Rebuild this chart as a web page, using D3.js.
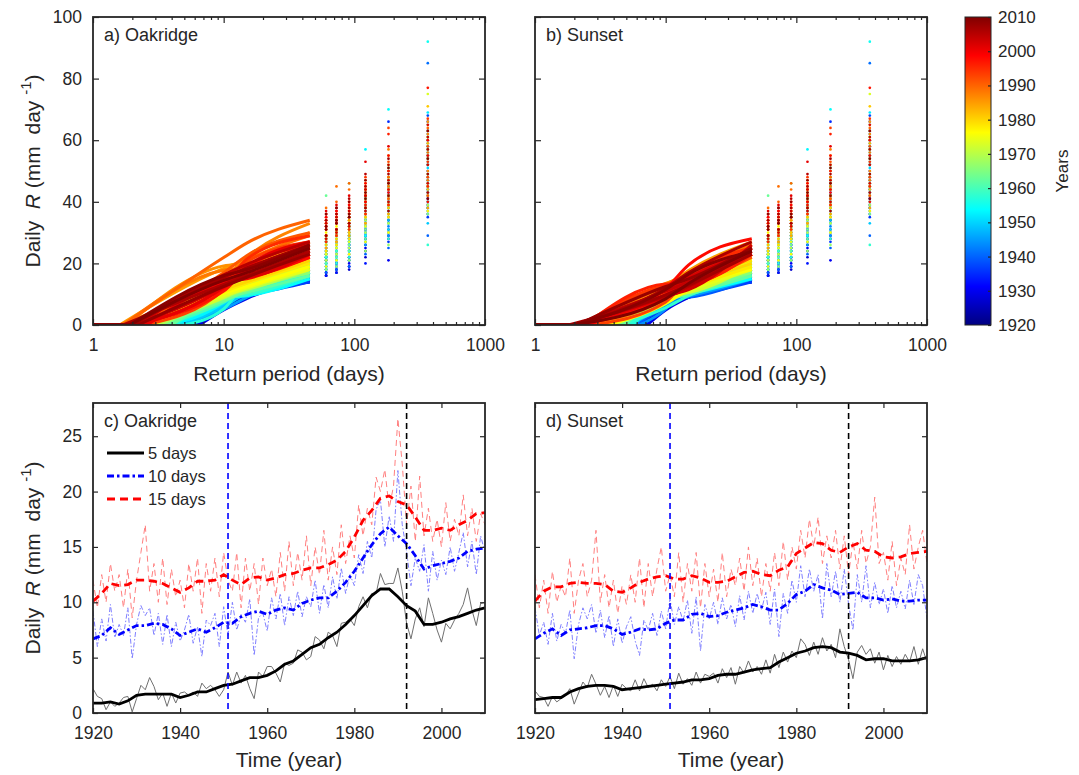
<!DOCTYPE html>
<html>
<head>
<meta charset="utf-8">
<script src="https://cdn.jsdelivr.net/npm/d3@7"></script>
<style>
  body { margin: 0; background: #fff; }
  text { font-family: "Liberation Sans", Arial, Helvetica, sans-serif; fill: #262626; }
</style>
</head>
<body>
<svg id="chart" width="1079" height="775"></svg>
<script>
// ---------- data ----------
const years = d3.range(1920, 2011);
const smoothYears = d3.range(1920, 2011, 2);

// annual daily R (mm/day) at the 5, 10 and 15 day return periods - Oakridge
const oak5 = [2.2,1.5,1.3,0.3,1.0,0.6,0.9,1.4,1.5,0.1,
  1.3,2.5,2.1,3.2,2.4,1.2,1.8,0.6,1.8,0.9,
  1.8,1.9,1.6,1.9,1.5,2.7,2.2,2.5,2.1,1.5,
  2.1,3.7,2.5,3.7,2.7,3.4,2.2,1.3,3.7,3.3,
  4.2,4.2,3.6,2.8,4.5,4.3,4.5,5.7,5.5,4.8,
  5.1,6.9,6.6,5.8,7.3,7.0,6.0,8.1,8.2,8.5,
  7.9,9.6,10.5,9.5,10.8,10.8,12.6,11.6,11.7,11.7,
  13.1,11.0,8.1,6.7,8.5,9.5,7.8,10.4,9.0,7.5,
  6.4,8.1,7.6,8.4,9.0,9.8,11.3,9.3,7.9,9.9,
  10.0];
const oak10 = [9.2,6.0,8.5,6.5,9.8,6.8,8.0,7.0,9.5,4.9,
  8.0,9.7,8.8,9.5,7.0,9.0,6.2,8.9,6.0,8.2,
  6.5,7.5,8.9,6.3,7.8,5.1,8.4,7.9,9.0,6.0,
  9.6,7.0,10.0,7.5,8.9,8.2,10.3,5.2,8.6,9.0,
  7.4,10.4,8.5,10.8,7.9,10.5,8.8,11.0,8.7,10.5,
  9.6,12.0,9.0,11.6,9.5,12.3,10.3,13.1,10.8,12.5,
  11.5,14.3,12.6,15.5,14.0,18.4,19.2,15.0,17.8,15.5,
  21.9,17.0,14.6,11.5,14.0,12.8,15.2,11.0,14.6,12.0,
  13.8,12.5,15.0,12.8,14.5,16.3,13.2,15.5,12.5,16.0,
  14.5];
const oak15 = [12.0,9.5,12.5,10.0,13.5,11.0,12.5,9.5,13.0,8.6,
  12.0,14.5,17.0,11.0,13.5,10.0,14.0,9.8,13.0,10.5,
  12.0,9.5,13.5,11.0,14.0,9.0,13.5,11.0,14.0,10.5,
  14.5,12.0,11.0,14.5,9.5,14.0,11.0,13.5,9.8,14.0,
  11.5,13.0,10.5,14.5,11.0,15.5,11.5,14.5,12.0,16.0,
  11.5,15.0,12.5,16.5,12.0,15.0,12.5,17.0,13.5,16.0,
  14.0,18.8,16.0,18.5,17.0,21.3,20.0,22.0,18.5,20.5,
  26.6,22.5,17.0,20.5,15.5,21.4,16.0,18.5,15.5,17.5,
  15.0,19.0,15.5,17.5,16.0,19.7,16.0,18.5,15.5,18.0,
  17.0];
// smoothed series, every second year
const oak5s = [0.9,0.9,1.0,0.8,1.1, 1.6,1.7,1.7,1.7,1.7, 1.4,1.6,1.9,1.9,2.2, 2.5,2.6,2.9,3.2,3.2,
  3.4,3.8,4.4,4.7,5.3, 5.9,6.2,6.8,7.3,8.0, 8.8,9.7,10.6,11.2,11.2, 10.5,9.7,9.2,8.0,8.0,
  8.2,8.5,8.7,9.0,9.3, 9.5];
const oak10s = [6.7,7.0,7.7,7.1,7.5, 7.9,7.9,8.1,8.0,7.6, 7.0,7.3,7.6,7.3,7.7, 8.2,8.1,8.7,9.0,9.2,
  8.9,9.3,9.5,9.3,9.9, 10.2,10.4,10.4,11.0,11.8, 12.8,14.0,15.2,16.2,16.8, 16.0,15.3,14.2,13.0,13.3,
  13.5,13.7,14.0,14.6,14.8, 14.9];
const oak15s = [10.1,10.8,11.7,11.5,11.6, 12.0,12.0,11.9,11.7,11.3, 10.9,11.3,11.9,11.9,12.0, 12.5,12.0,11.6,12.2,12.3,
  12.0,12.2,12.5,12.6,12.9, 13.1,13.1,13.4,13.8,14.6, 15.9,17.4,18.3,19.4,19.6, 19.1,18.8,17.7,16.5,16.5,
  16.7,16.5,17.0,17.4,18.0, 18.1];

// Sunset
const sun5 = [2.0,1.5,1.4,0.6,1.5,1.0,1.3,1.6,2.2,0.8,
  1.8,2.8,2.3,3.5,2.6,1.6,2.4,1.4,2.5,1.5,
  2.6,2.2,2.0,3.0,2.0,3.1,2.3,2.6,2.0,3.0,
  2.4,3.3,2.2,3.6,2.6,3.1,2.5,3.7,2.7,3.5,
  3.3,3.6,2.7,4.0,3.2,4.1,2.6,4.2,3.6,4.7,
  3.7,4.2,3.5,4.8,3.6,5.3,4.1,5.5,4.6,5.6,
  5.0,6.7,6.2,5.2,6.4,5.3,6.8,5.6,6.2,5.0,
  7.6,6.0,4.8,3.1,5.5,6.1,5.3,5.8,4.5,5.5,
  3.9,5.2,4.2,5.1,4.4,5.3,4.6,6.0,4.4,5.8,
  4.6];
const sun10 = [9.5,7.0,8.2,6.2,9.0,6.5,8.0,7.2,9.3,4.9,
  8.0,9.5,8.5,9.8,7.2,9.3,6.8,8.8,6.0,8.5,
  6.3,7.8,8.7,6.5,5.2,8.4,7.5,9.0,7.0,9.2,
  7.6,10.3,8.0,9.6,8.3,10.2,7.2,10.5,5.6,9.8,
  8.5,10.0,8.0,10.4,8.5,9.8,7.8,10.6,8.4,11.0,
  9.0,10.8,9.3,10.9,8.0,11.2,6.9,10.8,9.0,12.0,
  10.0,13.3,10.5,13.0,11.0,12.5,8.5,13.5,10.5,12.8,
  10.0,13.0,9.8,7.5,12.5,10.0,13.3,9.5,11.8,9.8,
  11.2,9.0,11.5,9.5,11.0,9.4,12.0,9.8,12.5,11.5,
  8.5];
const sun15 = [12.5,9.5,12.0,9.0,12.8,10.0,11.5,10.5,14.0,9.0,
  12.0,13.5,10.5,12.0,16.5,10.0,12.5,9.5,12.0,9.0,
  11.5,9.8,12.5,10.0,14.0,9.5,13.5,10.5,13.0,15.0,
  11.0,12.5,10.5,14.5,10.0,13.5,11.0,14.5,9.5,13.5,
  10.5,13.0,10.0,14.5,10.5,13.0,11.5,14.0,11.0,15.0,
  11.5,14.0,10.5,13.5,11.0,14.5,11.5,15.5,12.0,15.0,
  13.0,16.5,14.0,17.5,15.0,17.7,13.5,16.0,14.0,16.5,
  13.0,16.0,12.5,15.5,13.0,16.5,13.5,15.0,19.5,13.5,
  14.5,12.0,15.5,11.5,14.0,12.5,17.0,13.0,15.0,16.5,
  13.5];
const sun5s = [1.2,1.3,1.4,1.4,1.9, 2.2,2.4,2.5,2.5,2.4, 2.1,2.2,2.3,2.4,2.5, 2.6,2.7,2.8,3.0,3.0,
  3.1,3.4,3.5,3.5,3.7, 3.9,4.0,4.1,4.6,5.0, 5.4,5.6,5.9,6.0,5.9, 5.5,5.4,5.2,4.8,4.9,
  4.9,4.7,4.7,4.7,4.8, 5.0];
const sun10s = [6.7,7.2,7.6,7.0,7.5, 7.6,7.7,7.9,7.9,7.6, 7.1,7.3,7.6,7.5,7.6, 8.1,8.4,8.4,8.9,9.0,
  8.7,8.8,9.1,9.3,9.5, 9.8,9.6,9.3,9.3,9.9, 10.7,11.0,11.6,11.3,11.1, 10.7,10.8,10.9,10.4,10.4,
  10.2,10.3,10.1,10.1,10.2, 10.2];
const sun15s = [10.1,11.0,11.4,11.4,11.7, 11.8,11.7,11.7,11.6,11.0, 10.9,11.3,11.8,12.1,12.3, 12.4,12.1,12.1,12.4,12.2,
  11.8,11.8,11.9,12.3,12.7, 12.8,12.5,12.4,12.9,13.2, 14.4,14.9,15.4,15.3,14.7, 14.5,15.0,15.3,14.7,14.6,
  14.1,14.0,14.1,14.4,14.5, 14.6];

// return-period curves: period where R first exceeds zero, and R at 45.6 days
const oakT0 = [5.5,5.0,5.2,6.2,5.4,5.8,5.5,5.0,5.0,6.5,
  5.2,4.5,4.6,4.0,4.4,5.2,4.8,5.8,4.8,5.4,
  4.8,4.7,4.9,4.6,4.9,4.0,4.3,4.1,4.4,4.9,
  4.3,3.6,4.1,3.6,4.0,3.7,4.3,4.9,3.6,3.8,
  3.4,3.4,3.6,4.0,3.2,3.3,3.2,2.8,2.9,3.1,
  3.0,2.5,2.6,2.8,2.4,2.5,2.8,2.2,2.2,2.1,
  2.2,1.9,1.8,1.9,1.8,1.6,1.8,1.7,1.7,1.6,
  1.7,1.8,2.2,2.5,2.1,1.9,2.2,1.8,2.0,2.3,
  2.6,2.2,2.3,2.1,2.0,1.9,1.7,2.0,2.2,1.9,
  1.9];
const oakR46 = [15,17,14,18,15,16,17,14,18,15,
  16,18,20,16,18,15,17,14,17,15,
  16,15,18,16,18,15,18,16,19,16,
  19,17,17,20,15,19,17,19,16,20,
  17,19,16,20,17,21,17,20,18,22,
  18,21,19,22,18,21,19,23,20,22,
  21,25,23,25,24,30,26,33,27,29,
  34,30,25,27,23,29,22,26,22,25,
  23,27,23,25,24,27,24,26,23,26,
  25];
const sunT0 = [6.5,6.0,6.2,7.0,6.3,6.8,6.4,6.0,5.8,7.2,
  6.0,5.4,5.6,5.0,5.3,6.0,5.6,6.5,5.6,6.2,
  5.6,5.5,5.7,5.4,6.3,4.9,5.2,5.0,5.3,5.6,
  5.1,4.6,5.0,4.5,4.9,4.6,5.1,5.6,4.6,4.7,
  4.3,4.3,4.5,4.8,4.1,4.2,4.1,3.7,3.8,4.0,
  3.8,3.3,3.4,3.6,3.2,3.3,3.6,3.0,3.0,2.9,
  2.9,2.5,2.4,2.5,2.4,2.2,2.4,2.2,2.2,2.1,
  2.1,2.2,2.5,2.8,2.3,2.1,2.4,2.0,2.2,2.4,
  2.6,2.2,2.3,2.1,2.0,1.9,1.8,2.0,2.1,1.9,
  1.9];
const sunR46 = [15,16,14,17,15,16,16,14,17,15,
  15,17,18,16,18,15,17,14,17,15,
  15,15,17,16,17,15,17,16,18,20,
  18,17,16,19,15,18,17,19,16,19,
  17,19,16,19,17,20,17,19,18,21,
  18,20,19,21,18,21,18,22,19,21,
  20,24,22,26,23,27,22,25,23,26,
  23,25,22,24,23,25,23,24,28,23,
  23,25,24,26,24,25,27,23,25,24,
  24];

// highest daily values of each year (ranks 1-6), shared by both gauges
const colPeriods = [365, 182.5, 121.7, 91.25, 73, 60.8];
const rank1 = [45,52,38,60,41,55,47,36,63,44, 50,39,58,43,66,48,35,57,68,42,
  29,85,46,54,37,62,49,40,59,33, 51,44,69,38,56,92,47,61,26,53,
  40,58,45,65,36,52,43,60,48,39, 55,46,63,75,42,57,49,37,61,45,
  54,71,44,59,38,66,50,62,47,56, 64,42,58,48,67,53,45,77,40,60,
  55,65,46,52,61,43,57,49,63,41, 54];
const rank2 = [34,40,28,45,31,38,42,29,47,35, 21,33,44,30,39,66,27,41,36,48,
  25,37,43,32,50,29,40,46,34,38, 42,31,45,36,70,33,47,28,39,44,
  37,48,30,42,35,51,38,26,45,40, 33,46,39,52,36,44,30,48,41,35,
  47,38,55,42,36,50,44,39,57,45, 48,41,53,64,46,39,62,50,43,55,
  44,58,40,47,52,37,49,54,42,46, 51];
const rank3 = [28,33,24,36,26,31,35,22,38,29, 25,30,34,20,32,39,27,36,29,41,
  23,31,37,28,34,26,40,33,29,35, 36,30,38,57,33,29,41,27,35,39,
  32,40,28,37,31,43,35,24,39,34, 30,38,35,44,32,40,27,42,36,33,
  41,35,46,38,33,44,40,36,47,42, 43,38,45,40,48,36,42,44,39,46,
  40,53,37,44,42,49,45,38,47,43, 41];
const rank4 = [22,27,19,29,21,25,28,18,30,24, 20,25,28,19,26,32,22,29,24,33,
  19,26,30,23,28,21,32,27,24,29, 29,25,31,35,27,24,33,22,28,31,
  27,32,24,46,26,34,29,21,32,28, 25,31,29,36,27,33,23,35,30,28,
  34,30,38,32,29,37,34,31,39,44, 46,33,37,35,40,31,36,38,33,39,
  35,42,32,37,36,41,38,33,40,36, 35];
const rank5 = [20,24,17,26,19,23,25,18,27,21, 18,23,25,17,24,29,20,26,22,30,
  18,24,27,21,25,19,29,24,22,26, 26,22,28,31,24,21,30,20,25,28,
  24,29,22,33,23,31,26,19,29,25, 23,28,26,33,25,30,21,32,27,26,
  31,28,35,30,27,34,31,29,36,45, 40,31,35,33,37,29,34,36,31,37,
  33,39,30,35,34,38,36,31,38,34, 33];
const rank6 = [18,22,16,24,17,21,23,16,25,19, 17,21,23,16,22,27,18,24,20,28,
  17,22,25,19,23,18,27,22,20,24, 24,20,26,29,22,19,28,18,23,26,
  22,27,20,42,21,29,24,18,27,23, 21,26,24,31,23,28,19,30,25,24,
  29,26,33,28,25,32,29,27,34,38, 36,29,33,31,35,27,32,34,29,35,
  31,37,28,33,32,36,34,29,36,32, 31];
const rankCols = [rank1, rank2, rank3, rank4, rank5, rank6];

const breakYears = [1951, 1992];
const retTicks = [1, 10, 100, 1000];
const retYTicks = [0, 20, 40, 60, 80, 100];
const timeTicks = [1920, 1940, 1960, 1980, 2000];
const timeYTicks = [0, 5, 10, 15, 20, 25];
const cbarTicks = d3.range(1920, 2011, 10);
const legendLabels = ["5 days", "10 days", "15 days"];

// ---------- layout ----------
const AX = "#262626";
const W = 392;
const svg = d3.select("#chart");

// MATLAB jet colormap
const jet = d3.scaleLinear()
  .domain([0, 0.125, 0.375, 0.625, 0.875, 1].map(p => 1920 + p * 90))
  .range(["#000080", "#0000ff", "#00ffff", "#ffff00", "#ff0000", "#800000"]);

function styleAxis(sel) {
  sel.select(".domain").remove();
  sel.attr("color", AX).attr("font-family", null).attr("font-size", null);
  sel.selectAll("line").attr("stroke-width", 1.2);
  sel.selectAll("text").style("font-size", "17.5px");
}

function frame(g, h) {
  g.append("rect").attr("width", W).attr("height", h)
    .attr("fill", "none").attr("stroke", AX).attr("stroke-width", 1.8);
}

function panelLabel(g, txt) {
  g.append("text").attr("x", 11).attr("y", 24).style("font-size", "18px").text(txt);
}

function yLabel(x, y) {
  const t = svg.append("text")
    .attr("transform", `translate(${x},${y}) rotate(-90)`)
    .attr("text-anchor", "middle").style("font-size", "21px").style("white-space", "pre");
  t.append("tspan").text("Daily  ");
  t.append("tspan").style("font-style", "italic").text("R");
  t.append("tspan").text(" (mm  day ");
  t.append("tspan").attr("dy", -9).style("font-size", "15px").text("-1");
  t.append("tspan").attr("dy", 9).text(")");
}

// ---------- return period panels ----------
function returnPanel(x0, y0, label, t0, r46, v10, v15, withY) {
  const h = 308;
  const g = svg.append("g").attr("transform", `translate(${x0},${y0})`);
  const x = d3.scaleLog().domain([1, 1000]).range([0, W]);
  const y = d3.scaleLinear().domain([0, 100]).range([h, 0]);

  const clipId = "clip" + label[0];
  g.append("clipPath").attr("id", clipId).append("rect").attr("width", W).attr("height", h);
  const plot = g.append("g").attr("clip-path", `url(#${clipId})`);

  const flat = d3.line().x(d => x(d[0])).y(d => y(d[1]));
  const curve = d3.line().x(d => x(d[0])).y(d => y(d[1])).curve(d3.curveMonotoneX);

  years.forEach((yr, i) => {
    const c = jet(yr);
    // dry part of the year: zero up to t0
    plot.append("path").datum([[1, 0], [t0[i], 0]])
      .attr("d", flat).attr("fill", "none").attr("stroke", c).attr("stroke-width", 3);
    plot.append("path")
      .datum([[t0[i], 0], [10, v10[i]], [15, v15[i]], [45.6, r46[i]]])
      .attr("d", curve).attr("fill", "none").attr("stroke", c)
      .attr("stroke-width", 3).attr("stroke-linejoin", "round");
    plot.append("g").selectAll("circle")
      .data(colPeriods.map((T, k) => [T, rankCols[k][i]]))
      .join("circle")
      .attr("cx", d => x(d[0])).attr("cy", d => y(d[1])).attr("r", 1.35).attr("fill", c);
  });

  const minor = x.ticks().filter(v => !retTicks.includes(v));
  g.append("g").attr("transform", `translate(0,${h})`)
    .call(d3.axisBottom(x).tickValues(retTicks).tickFormat(d3.format("d")).tickSize(-6).tickPadding(14)).call(styleAxis);
  g.append("g").attr("transform", `translate(0,${h})`)
    .call(d3.axisBottom(x).tickValues(minor).tickFormat("").tickSize(-3)).call(styleAxis);
  g.append("g").call(d3.axisTop(x).tickValues(retTicks).tickFormat("").tickSize(-6)).call(styleAxis);
  g.append("g").call(d3.axisTop(x).tickValues(minor).tickFormat("").tickSize(-3)).call(styleAxis);
  g.append("g").call(d3.axisLeft(y).tickValues(retYTicks).tickFormat(withY ? d3.format("d") : "").tickSize(-6).tickPadding(11)).call(styleAxis);
  g.append("g").attr("transform", `translate(${W},0)`)
    .call(d3.axisRight(y).tickValues(retYTicks).tickFormat("").tickSize(-6)).call(styleAxis);
  frame(g, h);
  panelLabel(g, label);

  svg.append("text").attr("x", x0 + W / 2).attr("y", y0 + h + 56)
    .attr("text-anchor", "middle").style("font-size", "21px").text("Return period (days)");
}

// ---------- time series panels ----------
const seriesStyle = [
  { thin: "#707070", thick: "#000000", dashThin: null, dashThick: null },
  { thin: "#8080ff", thick: "#0000ff", dashThin: "5,2,1.5,2", dashThick: "7,3,2.5,3" },
  { thin: "#ff8080", thick: "#ff0000", dashThin: "6,4", dashThick: "8,5" }
];

function timePanel(x0, y0, label, annual, smooth, withY, withLegend) {
  const h = 310;
  const g = svg.append("g").attr("transform", `translate(${x0},${y0})`);
  const x = d3.scaleLinear().domain([1920, 2010]).range([0, W]);
  const y = d3.scaleLinear().domain([0, 28]).range([h, 0]);

  const clipId = "clip" + label[0];
  g.append("clipPath").attr("id", clipId).append("rect").attr("width", W).attr("height", h);
  const plot = g.append("g").attr("clip-path", `url(#${clipId})`);

  const line = d3.line().x(d => x(d[0])).y(d => y(d[1]));

  annual.forEach((s, k) => {
    plot.append("path").datum(years.map((yr, i) => [yr, s[i]]))
      .attr("d", line).attr("fill", "none")
      .attr("stroke", seriesStyle[k].thin).attr("stroke-width", 1)
      .attr("stroke-dasharray", seriesStyle[k].dashThin);
  });
  smooth.forEach((s, k) => {
    plot.append("path").datum(smoothYears.map((yr, i) => [yr, s[i]]))
      .attr("d", line).attr("fill", "none")
      .attr("stroke", seriesStyle[k].thick).attr("stroke-width", 2.8)
      .attr("stroke-dasharray", seriesStyle[k].dashThick);
  });

  plot.selectAll("line.brk").data(breakYears).join("line").attr("class", "brk")
    .attr("x1", d => x(d)).attr("x2", d => x(d)).attr("y1", 0).attr("y2", h)
    .attr("stroke", (d, i) => i === 0 ? "#0000ff" : "#000000")
    .attr("stroke-width", 1.6).attr("stroke-dasharray", "6,4");

  g.append("g").attr("transform", `translate(0,${h})`)
    .call(d3.axisBottom(x).tickValues(timeTicks).tickFormat(d3.format("d")).tickSize(-5).tickPadding(14)).call(styleAxis);
  g.append("g").call(d3.axisTop(x).tickValues(timeTicks).tickFormat("").tickSize(-5)).call(styleAxis);
  g.append("g").call(d3.axisLeft(y).tickValues(timeYTicks).tickFormat(withY ? d3.format("d") : "").tickSize(-5).tickPadding(11)).call(styleAxis);
  g.append("g").attr("transform", `translate(${W},0)`)
    .call(d3.axisRight(y).tickValues(timeYTicks).tickFormat("").tickSize(-5)).call(styleAxis);
  frame(g, h);
  panelLabel(g, label);

  if (withLegend) {
    const lg = g.append("g").attr("transform", "translate(14,50)");
    legendLabels.forEach((t, k) => {
      const row = lg.append("g").attr("transform", `translate(0,${k * 23})`);
      row.append("line").attr("x1", 0).attr("x2", 37).attr("y1", 0).attr("y2", 0)
        .attr("stroke", seriesStyle[k].thick).attr("stroke-width", 2.8)
        .attr("stroke-dasharray", seriesStyle[k].dashThick);
      row.append("text").attr("x", 41).attr("y", 6).style("font-size", "16.5px").text(t);
    });
  }

  svg.append("text").attr("x", x0 + W / 2).attr("y", y0 + h + 54)
    .attr("text-anchor", "middle").style("font-size", "21px").text("Time (year)");
}

returnPanel(93, 17, "a) Oakridge", oakT0, oakR46, oak10, oak15, true);
returnPanel(535, 17, "b) Sunset", sunT0, sunR46, sun10, sun15, false);
timePanel(93, 403, "c) Oakridge", [oak5, oak10, oak15], [oak5s, oak10s, oak15s], true, true);
timePanel(535, 403, "d) Sunset", [sun5, sun10, sun15], [sun5s, sun10s, sun15s], false, false);

yLabel(40, 171);
yLabel(40, 558);

// ---------- colour bar ----------
const cb = { x: 965, y: 17, w: 26, h: 308 };
const grad = svg.append("defs").append("linearGradient").attr("id", "jetGrad")
  .attr("x1", 0).attr("y1", 1).attr("x2", 0).attr("y2", 0);
grad.selectAll("stop").data(jet.domain()).join("stop")
  .attr("offset", d => (d - 1920) / 90).attr("stop-color", d => jet(d));
svg.append("rect").attr("x", cb.x).attr("y", cb.y).attr("width", cb.w).attr("height", cb.h)
  .attr("fill", "url(#jetGrad)").attr("stroke", AX).attr("stroke-width", 1);
const cy = d3.scaleLinear().domain([1920, 2010]).range([cb.h, 0]);
svg.append("g").attr("transform", `translate(${cb.x + cb.w},${cb.y})`)
  .call(d3.axisRight(cy).tickValues(cbarTicks).tickFormat(d3.format("d")).tickSize(-3).tickPadding(7))
  .call(styleAxis)
  .selectAll("text").style("font-size", "17px");
svg.append("text").attr("transform", "translate(1068,171) rotate(-90)")
  .attr("text-anchor", "middle").style("font-size", "17px").text("Years");
</script>
</body>
</html>
